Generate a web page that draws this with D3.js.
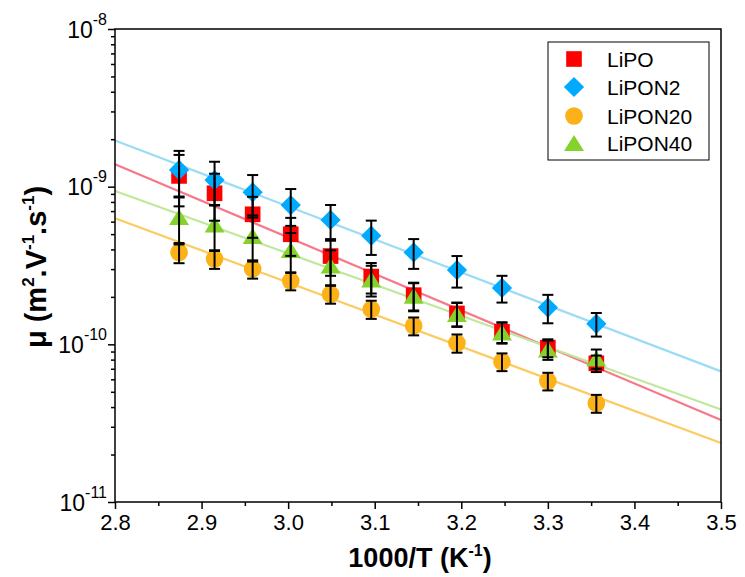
<!DOCTYPE html>
<html>
<head>
<meta charset="utf-8">
<script src="https://cdn.jsdelivr.net/npm/d3@7"></script>
<style>
  html, body { margin: 0; padding: 0; background: #fff; }
  svg { display: block; font-family: "Liberation Sans", Arial, sans-serif; }
</style>
</head>
<body>
<svg id="chart" width="745" height="577"></svg>
<script>
// ---------- data ----------
const invT = [2.874, 2.915, 2.959, 3.003, 3.049, 3.096, 3.145, 3.195, 3.247, 3.300, 3.356];

const seriesNames = ["LiPO", "LiPON2", "LiPON20", "LiPON40"];

const lipo      = [1.17e-9, 9.08e-10, 6.68e-10, 4.99e-10, 3.63e-10, 2.69e-10, 2.05e-10, 1.57e-10, 1.20e-10, 9.52e-11, 7.58e-11];
const lipoErr   = [4.2e-10, 3.0e-10, 1.94e-10, 1.35e-10, 9.1e-11, 5.9e-11, 4.1e-11, 2.7e-11, 1.8e-11, 1.24e-11, 9.1e-12];

const lipon2    = [1.276e-9, 1.102e-9, 9.21e-10, 7.65e-10, 6.15e-10, 4.89e-10, 3.83e-10, 2.96e-10, 2.28e-10, 1.71e-10, 1.35e-10];
const lipon2Err = [4.1e-10, 3.37e-10, 2.64e-10, 2.01e-10, 1.5e-10, 1.2e-10, 8.2e-11, 6.7e-11, 4.4e-11, 3.5e-11, 2.3e-11];

const lipon20    = [3.83e-10, 3.48e-10, 3.01e-10, 2.52e-10, 2.08e-10, 1.67e-10, 1.31e-10, 1.02e-10, 7.76e-11, 5.85e-11, 4.23e-11];
const lipon20Err = [5.6e-11, 4.7e-11, 4.0e-11, 3.2e-11, 2.7e-11, 2.2e-11, 1.7e-11, 1.35e-11, 1.0e-11, 7.5e-12, 5.5e-12];

const lipon40    = [6.42e-10, 5.75e-10, 4.86e-10, 3.97e-10, 3.16e-10, 2.58e-10, 2.03e-10, 1.56e-10, 1.19e-10, 9.27e-11, 8.13e-11];
const lipon40Err = [2.12e-10, 1.84e-10, 1.51e-10, 1.11e-10, 7.9e-11, 5.7e-11, 4.1e-11, 2.7e-11, 1.8e-11, 1.3e-11, 1.14e-11];

// linear (Arrhenius) fit lines, evaluated at the axis ends
const fitX       = [2.8, 3.5];
const lipoFit    = [1.387e-9, 3.31e-11];
const lipon2Fit  = [1.963e-9, 6.74e-11];
const lipon20Fit = [6.30e-10, 2.37e-11];
const lipon40Fit = [9.39e-10, 3.86e-11];

const xTicks = [2.8, 2.9, 3.0, 3.1, 3.2, 3.3, 3.4, 3.5];
const xMinorTicks = [2.85, 2.95, 3.05, 3.15, 3.25, 3.35, 3.45];
const yTicks = [1e-11, 1e-10, 1e-9, 1e-8];
const yTickExp = ["-11", "-10", "-9", "-8"];
const yMinorTicks = [2e-11,3e-11,4e-11,5e-11,6e-11,7e-11,8e-11,9e-11,
                     2e-10,3e-10,4e-10,5e-10,6e-10,7e-10,8e-10,9e-10,
                     2e-9,3e-9,4e-9,5e-9,6e-9,7e-9,8e-9,9e-9];

// ---------- layout ----------
const L = 115, R = 721, T = 29, B = 502;
const svg = d3.select("#chart");
const x = d3.scaleLinear().domain([2.8, 3.5]).range([L, R]);
const y = d3.scaleLog().domain([1e-11, 1e-8]).range([B, T]);

const triangleType = {
  draw(ctx, size) {
    const w = Math.sqrt(size * 2 / 0.8); // width, height = 0.8*width
    const h = 0.8 * w;
    ctx.moveTo(0, -h / 2);
    ctx.lineTo(w / 2, h / 2);
    ctx.lineTo(-w / 2, h / 2);
    ctx.closePath();
  }
};

const series = [
  { name: "LiPO",    vals: lipo,    err: lipoErr,    fit: lipoFit,    color: "#ff0000", line: "#f7788a", type: d3.symbolSquare, size: 245, rot: 0 },
  { name: "LiPON2",  vals: lipon2,  err: lipon2Err,  fit: lipon2Fit,  color: "#00aaff", line: "#9bdcf5", type: d3.symbolSquare, size: 205, rot: 45 },
  { name: "LiPON20", vals: lipon20, err: lipon20Err, fit: lipon20Fit, color: "#fbb117", line: "#fccb60", type: d3.symbolCircle, size: 245, rot: 0 },
  { name: "LiPON40", vals: lipon40, err: lipon40Err, fit: lipon40Fit, color: "#86d22c", line: "#bfe89b", type: triangleType,   size: 160, rot: 0 }
];

// ---------- fit lines ----------
const line = d3.line().x(d => x(d[0])).y(d => y(d[1]));
series.forEach(s => {
  svg.append("path")
    .datum(fitX.map((xx, i) => [xx, s.fit[i]]))
    .attr("d", line)
    .attr("fill", "none")
    .attr("stroke", s.line)
    .attr("stroke-width", 2.2);
});

// ---------- markers (draw order: LiPO, LiPON20, LiPON2, LiPON40) ----------
const drawOrder = [0, 2, 1, 3];
drawOrder.forEach(k => {
  const s = series[k];
  svg.append("g").selectAll("path")
    .data(invT.map((xx, i) => [xx, s.vals[i]]))
    .join("path")
    .attr("d", d3.symbol().type(s.type).size(s.size))
    .attr("transform", d => `translate(${x(d[0])},${y(d[1])}) rotate(${s.rot})`)
    .attr("fill", s.color);
});

// ---------- error bars ----------
const capW = 5.5;
series.forEach(s => {
  const g = svg.append("g").attr("stroke", "#000").attr("stroke-width", 2);
  invT.forEach((xx, i) => {
    const cx = x(xx);
    const y1 = y(s.vals[i] + s.err[i]);
    const y0 = y(s.vals[i] - s.err[i]);
    g.append("line").attr("x1", cx).attr("x2", cx).attr("y1", y1).attr("y2", y0);
    g.append("line").attr("x1", cx - capW).attr("x2", cx + capW).attr("y1", y1).attr("y2", y1);
    g.append("line").attr("x1", cx - capW).attr("x2", cx + capW).attr("y1", y0).attr("y2", y0);
  });
});

// ---------- frame ----------
svg.append("rect")
  .attr("x", L).attr("y", T).attr("width", R - L).attr("height", B - T)
  .attr("fill", "none").attr("stroke", "#000").attr("stroke-width", 1.5);

// ---------- axes ----------
const xAxis = svg.append("g").attr("transform", `translate(0,${B})`)
  .call(d3.axisBottom(x).tickValues(xTicks).tickFormat(d3.format(".1f")).tickSize(7).tickSizeOuter(0).tickPadding(5));
const xMinor = svg.append("g").attr("transform", `translate(0,${B})`)
  .call(d3.axisBottom(x).tickValues(xMinorTicks).tickFormat("").tickSize(4).tickSizeOuter(0));

const yAxis = svg.append("g").attr("transform", `translate(${L},0)`)
  .call(d3.axisLeft(y).tickValues(yTicks).tickFormat("").tickSize(7).tickSizeOuter(0));
const yMinor = svg.append("g").attr("transform", `translate(${L},0)`)
  .call(d3.axisLeft(y).tickValues(yMinorTicks).tickFormat("").tickSize(4).tickSizeOuter(0));

[xAxis, xMinor, yAxis, yMinor].forEach(g => {
  g.select(".domain").remove();
  g.selectAll(".tick line").attr("stroke", "#000").attr("stroke-width", 1.5);
});
xAxis.selectAll(".tick text")
  .attr("font-size", 22).attr("fill", "#000")
  .attr("font-family", "Liberation Sans, Arial, sans-serif");

// y tick labels with superscript exponents
yAxis.selectAll(".tick").each(function(d, i) {
  const t = d3.select(this).append("text")
    .attr("x", -8).attr("y", 0).attr("dy", "0.35em")
    .attr("text-anchor", "end")
    .attr("font-size", 23).attr("fill", "#000");
  t.append("tspan").text("10");
  t.append("tspan").attr("font-size", 16).attr("dy", "-0.8em").text(yTickExp[i]);
});

// ---------- axis titles ----------
const xt = svg.append("text")
  .attr("x", 420).attr("y", 567)
  .attr("text-anchor", "middle")
  .attr("font-size", 27).attr("font-weight", "bold");
xt.append("tspan").text("1000/T (K");
xt.append("tspan").attr("font-size", 16).attr("dy", -11).text("-1");
xt.append("tspan").attr("dy", 11).text(")");

const yt = svg.append("text")
  .attr("transform", `translate(46,267) rotate(-90)`)
  .attr("text-anchor", "middle")
  .attr("font-size", 29).attr("font-weight", "bold");
yt.append("tspan").text("\u03bc (m");
yt.append("tspan").attr("font-size", 17).attr("dy", -12).text("2");
yt.append("tspan").attr("dy", 12).text(".V");
yt.append("tspan").attr("font-size", 17).attr("dy", -12).text("-1");
yt.append("tspan").attr("dy", 12).text(".s");
yt.append("tspan").attr("font-size", 17).attr("dy", -12).text("-1");
yt.append("tspan").attr("dy", 12).text(")");

// ---------- legend ----------
const lg = svg.append("g");
lg.append("rect").attr("x", 548).attr("y", 42).attr("width", 161).attr("height", 118)
  .attr("fill", "#fff").attr("stroke", "#000").attr("stroke-width", 1);
const rowY = [59, 87, 116, 143];
series.forEach((s, i) => {
  lg.append("path")
    .attr("d", d3.symbol().type(s.type).size(s.size)())
    .attr("transform", `translate(574,${rowY[i]}) rotate(${s.rot})`)
    .attr("fill", s.color);
  lg.append("text")
    .attr("x", 607).attr("y", rowY[i]).attr("dy", "0.36em")
    .attr("font-size", 21).attr("fill", "#000")
    .text(seriesNames[i]);
});
</script>
</body>
</html>
